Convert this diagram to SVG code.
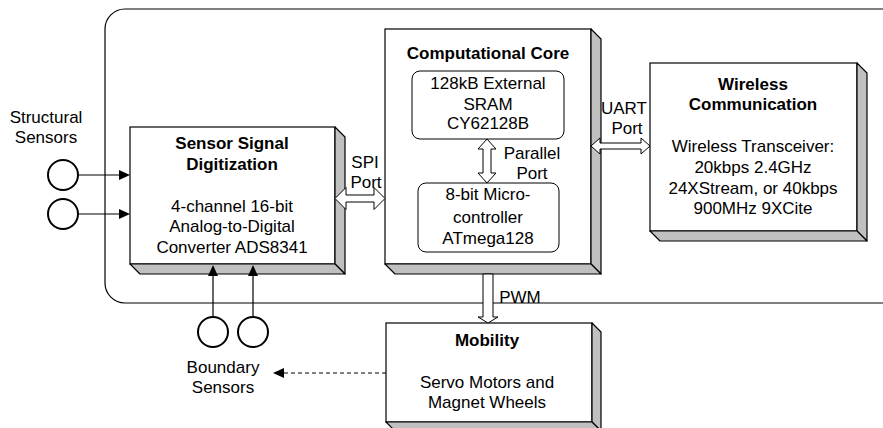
<svg xmlns="http://www.w3.org/2000/svg" width="883" height="428" viewBox="0 0 883 428">
<style>
text{font-family:"Liberation Sans",Arial,sans-serif;font-size:17px;fill:#000;text-anchor:middle}
.b{font-weight:bold}
.front{fill:#fff;stroke:#000;stroke-width:1.2}
.side{fill:#c0c0c0;stroke:#000;stroke-width:1.2;stroke-linejoin:round}
.inner{fill:#fff;stroke:#000;stroke-width:1}
.hollow{fill:#fff;stroke:#000;stroke-width:1}
.sensor{fill:#fff;stroke:#000;stroke-width:2}
.ln{stroke:#000;stroke-width:1.2;fill:none}
.head{fill:#000}
</style>
<rect id="frame" x="105" y="9" width="800" height="294" rx="20" fill="none" stroke="#000" stroke-width="1.2"/>

<g id="sensor-digitization">
<rect class="front" x="130" y="127" width="205" height="137"/>
<polygon class="side" points="335,127 345,137 345,274 335,264"/>
<polygon class="side" points="130,264 335,264 345,274 140,274"/>
<text class="b" x="232" y="149">Sensor Signal</text>
<text class="b" x="232" y="170">Digitization</text>
<text x="232" y="212">4-channel 16-bit</text>
<text x="232" y="232">Analog-to-Digital</text>
<text x="232" y="253">Converter ADS8341</text>
</g>

<g id="computational-core">
<rect class="front" x="385" y="29" width="206" height="235"/>
<polygon class="side" points="591,29 601,39 601,274 591,264"/>
<polygon class="side" points="385,264 591,264 601,274 395,274"/>
<text class="b" x="488" y="59">Computational Core</text>
</g>

<g id="sram">
<rect class="inner" x="412" y="71" width="152" height="68" rx="8"/>
<text x="488" y="89">128kB External</text>
<text x="488" y="110">SRAM</text>
<text x="488" y="129">CY62128B</text>
</g>

<g id="microcontroller">
<rect class="inner" x="418" y="183" width="141" height="69" rx="8"/>
<text x="488" y="200">8-bit Micro-</text>
<text x="488" y="223">controller</text>
<text x="488" y="244">ATmega128</text>
</g>

<g id="wireless">
<rect class="front" x="650" y="63" width="207" height="168"/>
<polygon class="side" points="857,63 867,73 867,241 857,231"/>
<polygon class="side" points="650,231 857,231 867,241 660,241"/>
<text class="b" x="753" y="90">Wireless</text>
<text class="b" x="753" y="110">Communication</text>
<text x="753" y="152">Wireless Transceiver:</text>
<text x="753" y="173">20kbps 2.4GHz</text>
<text x="753" y="194">24XStream, or 40kbps</text>
<text x="753" y="214">900MHz 9XCite</text>
</g>

<g id="mobility">
<rect class="front" x="386" y="323" width="206" height="99"/>
<polygon class="side" points="592,323 601,332 601,431 592,422"/>
<polygon class="side" points="386,422 592,422 601,431 395,431"/>
<text class="b" x="487" y="346">Mobility</text>
<text x="487" y="388">Servo Motors and</text>
<text x="487" y="408">Magnet Wheels</text>
</g>

<g id="structural-sensors">
<circle class="sensor" cx="63" cy="175" r="15"/>
<circle class="sensor" cx="63" cy="214" r="15"/>
<text x="46" y="123">Structural</text>
<text x="46" y="143">Sensors</text>
</g>

<g id="boundary-sensors">
<circle class="sensor" cx="213" cy="332" r="15"/>
<circle class="sensor" cx="253" cy="332" r="15"/>
<text x="223" y="373">Boundary</text>
<text x="223" y="393">Sensors</text>
</g>

<g id="connectors">
<line class="ln" x1="78" y1="175" x2="120" y2="175"/>
<polygon class="head" points="130,175 119,170 119,180"/>
<line class="ln" x1="78" y1="214" x2="120" y2="214"/>
<polygon class="head" points="130,214 119,209 119,219"/>
<line class="ln" x1="213" y1="317" x2="213" y2="275"/>
<polygon class="head" points="213,265 208,276 218,276"/>
<line class="ln" x1="253" y1="317" x2="253" y2="275"/>
<polygon class="head" points="253,265 248,276 258,276"/>
<polygon class="hollow" points="335,198.5 346,187.5 346,195 374,195 374,187.5 385,198.5 374,209.5 374,202 346,202 346,209.5"/>
<text x="365" y="168">SPI</text>
<text x="366" y="188">Port</text>
<polygon class="hollow" points="591,146 600,138 600,143 641,143 641,138 650,146 641,154 641,149 600,149 600,154"/>
<text x="624" y="114">UART</text>
<text x="627" y="134">Port</text>
<polygon class="hollow" points="487,139 496,149 491,149 491,173 496,173 487,183 478,173 483,173 483,149 478,149"/>
<text x="532" y="159">Parallel</text>
<text x="532" y="179">Port</text>
<polygon class="hollow" points="483,274 493,274 493,317 498,317 488,323 478,317 483,317"/>
<text x="520" y="303">PWM</text>
<line class="ln" x1="386" y1="373" x2="284" y2="373" stroke-dasharray="4,3"/>
<polygon class="head" points="273,373 284,368 284,378"/>
</g>
</svg>
